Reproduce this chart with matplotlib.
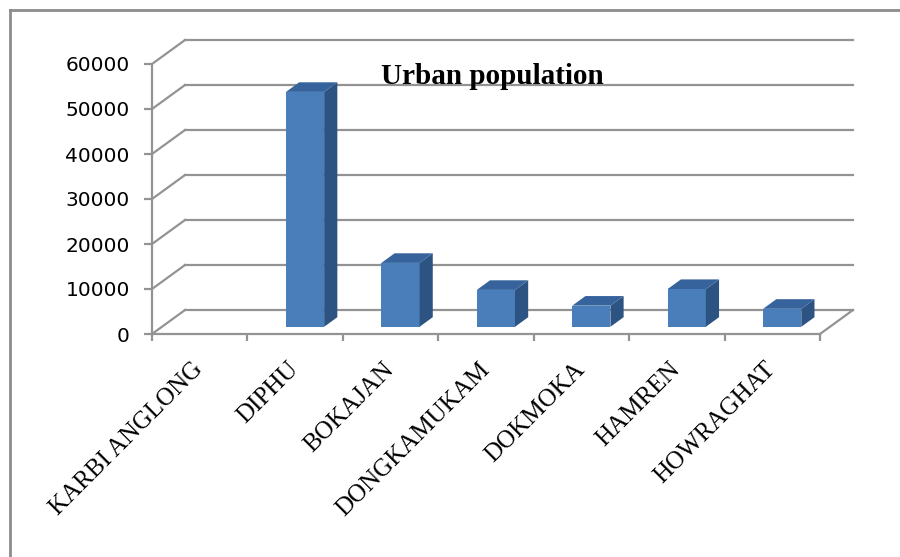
import matplotlib.pyplot as plt
from matplotlib.lines import Line2D

# urban population by town
towns = ["KARBI ANGLONG", "DIPHU", "BOKAJAN", "DONGKAMUKAM", "DOKMOKA", "HAMREN", "HOWRAGHAT"]
population = [0, 52200, 14200, 8200, 4700, 8400, 4000]
y_ticks = [0, 10000, 20000, 30000, 40000, 50000, 60000]

# fake 3d: how far the back wall sits from the front, in data units
depth_x = 0.346
depth_y = 5333
bar_front, bar_back = 0.3, 0.7   # bar depth as a fraction of the floor
bar_width = 0.4

grid_col = '#939393'
face_col = '#4a7ebb'
side_col = '#2d5383'
top_col = '#36639b'

def proj(x, v, f):
    return x + f * depth_x, v + f * depth_y

fig = plt.figure(figsize=(9, 5.57), dpi=100)
ax = fig.add_axes([152 / 900, 223 / 557, 668 / 900, 270 / 557])
ax.set_xlim(0, len(towns))
ax.set_ylim(0, 60000)
n = len(towns)

# back wall gridlines and left wall diagonals
for v in y_ticks:
    x0, y0 = proj(0, v, 1)
    x1, y1 = proj(n, v, 1)
    ax.plot([x0, x1], [y0, y1], color=grid_col, lw=1.6, clip_on=False, zorder=1)
    ax.plot([0, x0], [v, y0], color=grid_col, lw=1.6, clip_on=False, zorder=1)

# floor: front edge and right side
ax.plot([0, n], [0, 0], color=grid_col, lw=1.6, clip_on=False, zorder=1)
xr, yr = proj(n, 0, 1)
ax.plot([n, xr], [0, yr], color=grid_col, lw=1.6, clip_on=False, zorder=1)

# bars: front, side, top
for i, val in enumerate(population):
    if val <= 0:
        continue
    left = i + 0.5 - bar_width / 2
    right = i + 0.5 + bar_width / 2
    fl = proj(left, 0, bar_front)
    fr = proj(right, 0, bar_front)
    tl = proj(left, val, bar_front)
    tr = proj(right, val, bar_front)
    br_b = proj(right, 0, bar_back)
    br_t = proj(right, val, bar_back)
    bl_t = proj(left, val, bar_back)
    ax.fill([fl[0], fr[0], tr[0], tl[0]], [fl[1], fr[1], tr[1], tl[1]],
            color=face_col, clip_on=False, zorder=3, lw=0)
    ax.fill([fr[0], br_b[0], br_t[0], tr[0]], [fr[1], br_b[1], br_t[1], tr[1]],
            color=side_col, clip_on=False, zorder=3, lw=0)
    ax.fill([tl[0], tr[0], br_t[0], bl_t[0]], [tl[1], tr[1], br_t[1], bl_t[1]],
            color=top_col, clip_on=False, zorder=3, lw=0)

# axes styling
for s in ['top', 'right', 'bottom']:
    ax.spines[s].set_visible(False)
ax.spines['left'].set_color(grid_col)
ax.spines['left'].set_linewidth(1.6)
ax.set_facecolor('none')

ax.set_yticks(y_ticks)
ax.set_yticklabels([str(t) for t in y_ticks], fontsize=14.5, family='DejaVu Sans')
ax.tick_params(axis='y', length=6, width=1.6, color=grid_col, pad=10)

ax.set_xticks(range(n + 1))
ax.set_xticklabels([])
ax.tick_params(axis='x', which='major', length=5, width=1.6, color=grid_col)
ax.set_xticks([i + 0.5 for i in range(n)], minor=True)
ax.set_xticklabels(towns, minor=True, rotation=45, ha='right', va='center',
                   rotation_mode='anchor', fontsize=18, family='Liberation Serif')
ax.tick_params(axis='x', which='minor', length=0, pad=23)

fig.text(492 / 900, 1 - 76 / 557, "Urban population", ha='center', va='center',
         fontsize=21, fontweight='bold', family='Liberation Serif')

# chart border (left and top edges)
fig.add_artist(Line2D([10 / 900, 10 / 900], [0, 1 - 10 / 557], color='#8c8c8c', lw=2))
fig.add_artist(Line2D([10 / 900, 1], [1 - 10 / 557, 1 - 10 / 557], color='#8c8c8c', lw=2))

fig.savefig('out.png', dpi=100)
